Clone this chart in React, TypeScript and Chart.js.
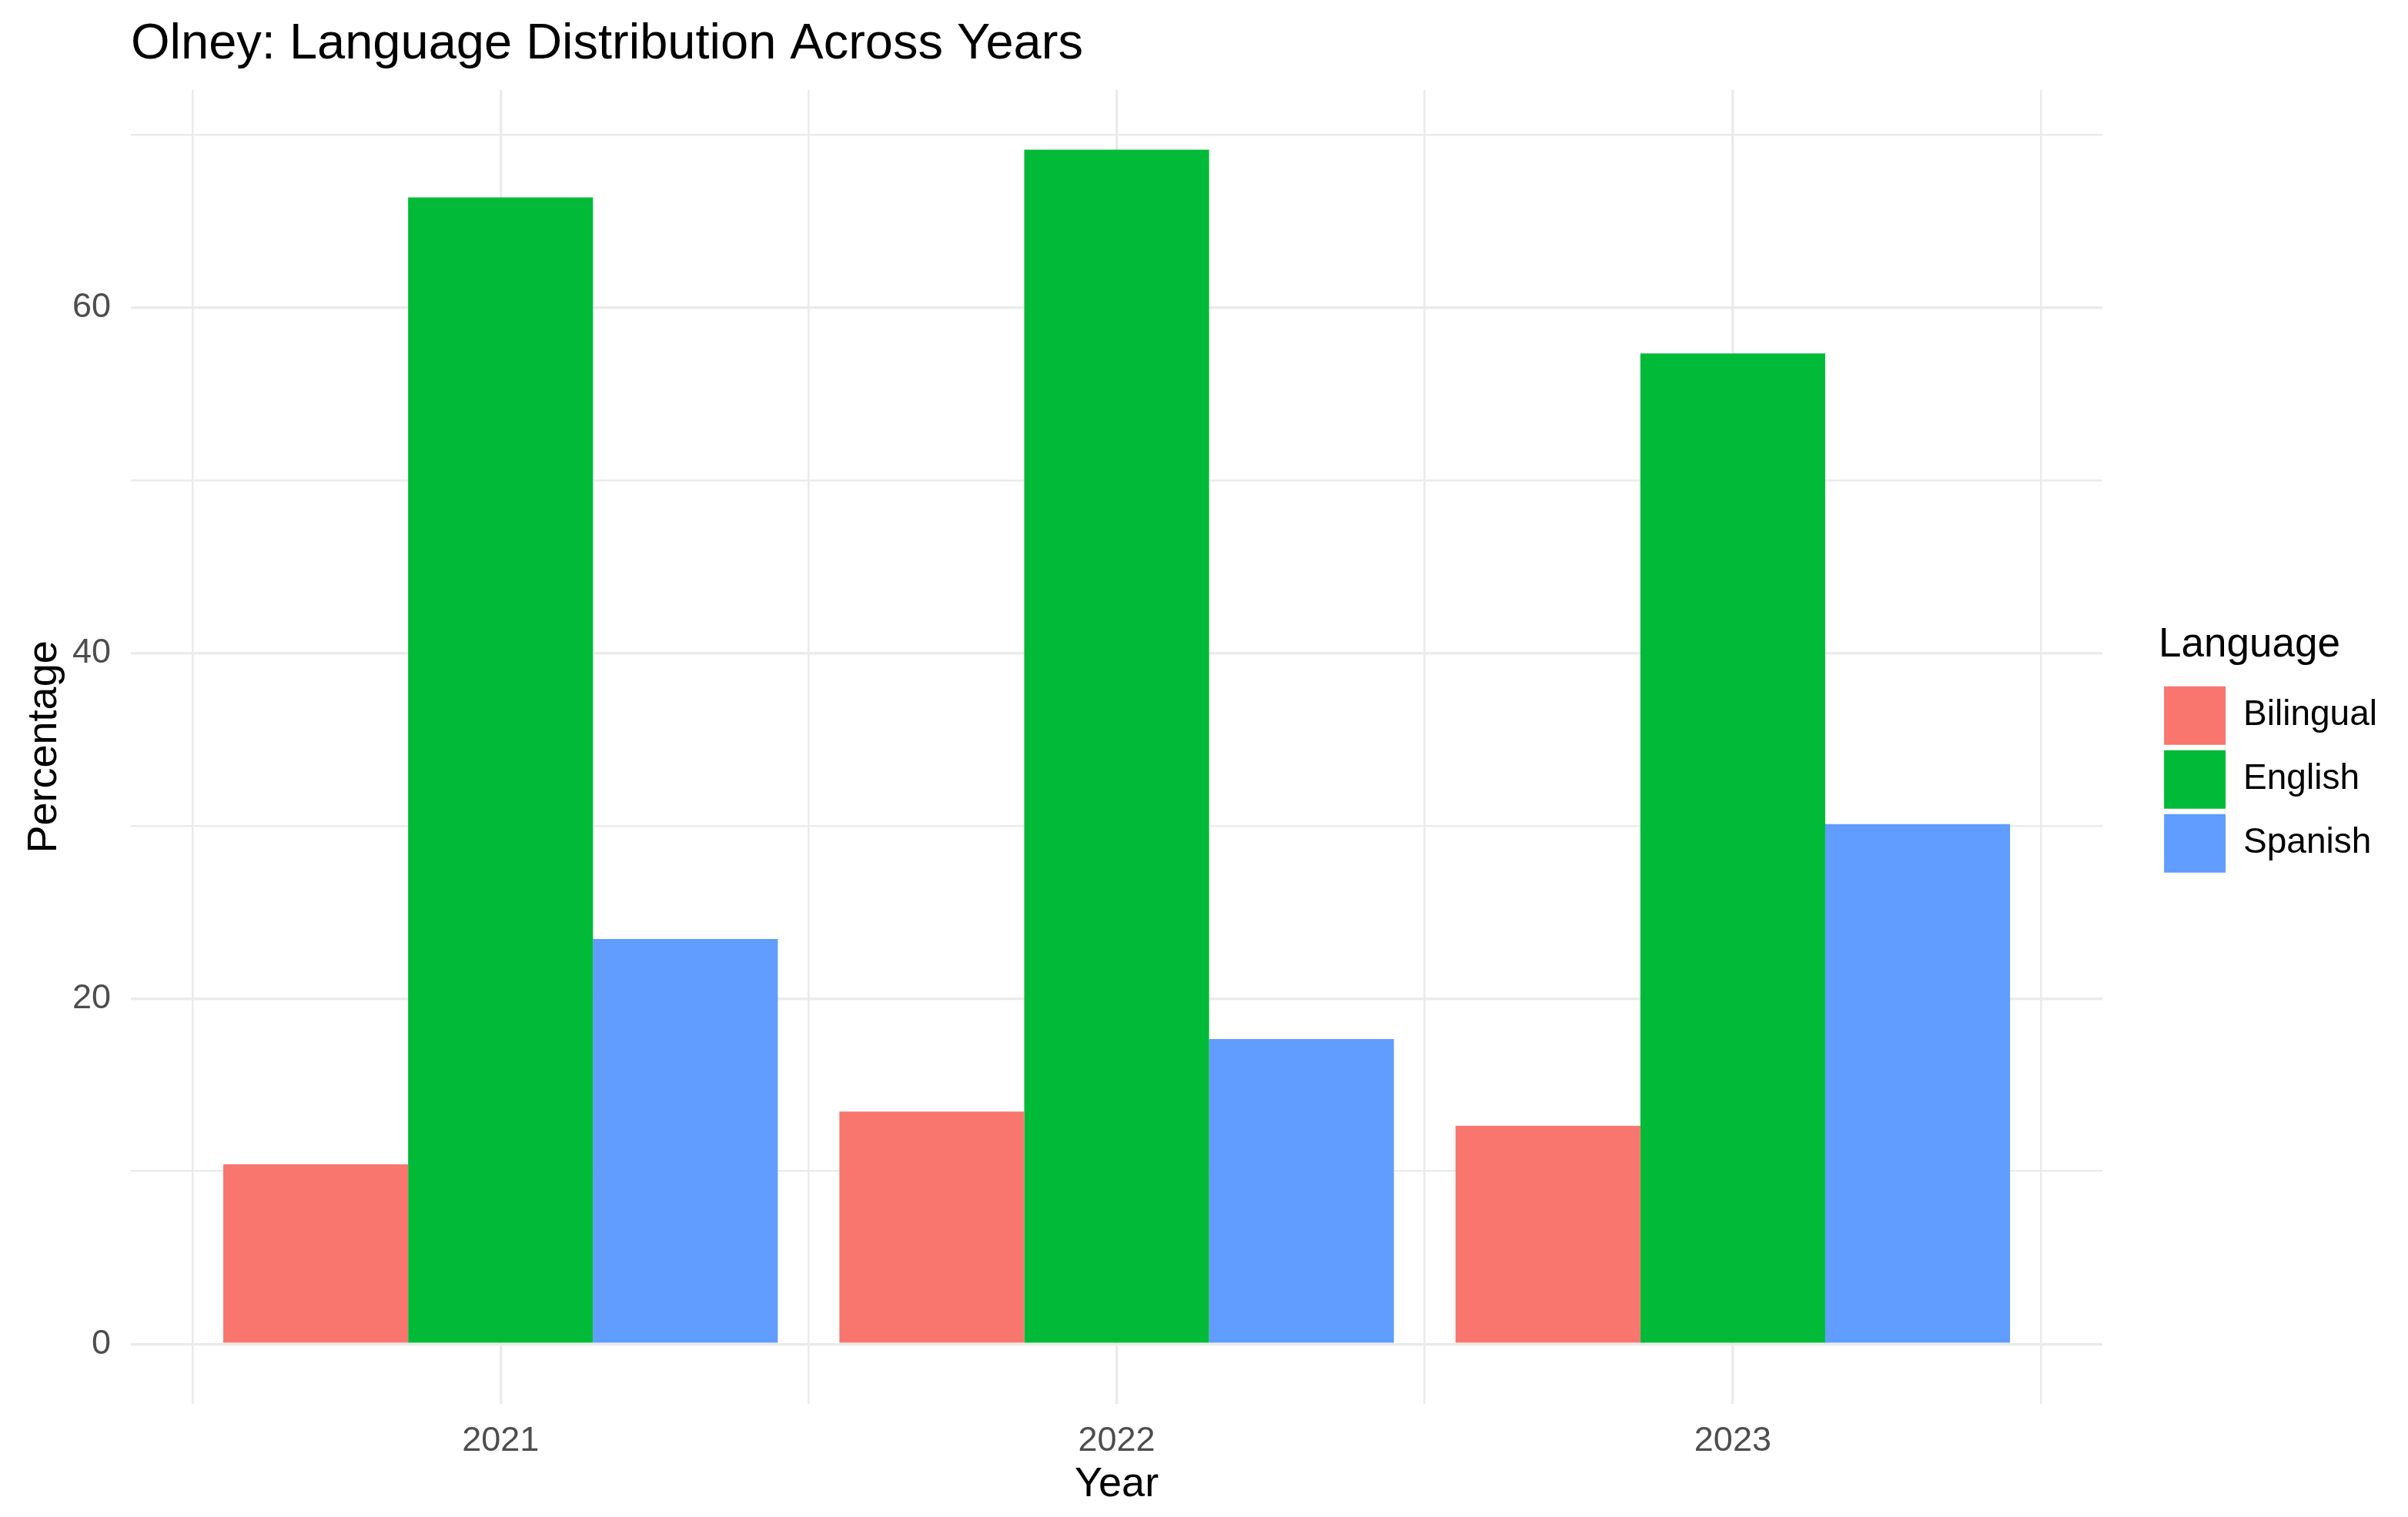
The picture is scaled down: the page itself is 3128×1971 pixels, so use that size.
import { useEffect, useRef } from 'react';
import { Chart, registerables } from 'chart.js';

Chart.register(...registerables);

// ---- data ----
const years = ['2021', '2022', '2023'];
const languages = ['Bilingual', 'English', 'Spanish'];
const bilingual = [10.4, 13.46, 12.63];
const english = [66.38, 69.14, 57.35];
const spanish = [23.45, 17.65, 30.1];
const yTickValues = [0, 10, 20, 30, 40, 50, 60, 70];
const yLabelValues = [0, 20, 40, 60];

// ---- styles ----
const colors = ['#F8766D', '#00BA38', '#619CFF'];
const FONT = "'Liberation Sans', Arial, Helvetica, sans-serif";
const GRID = '#EBEBEB';
const TICK_COLOR = '#4D4D4D';

export default function App() {
  const ref = useRef<HTMLCanvasElement>(null);

  useEffect(() => {
    document.body.style.margin = '0';
    const yearNums = years.map(Number);
    const xMin = yearNums[0] - 0.6;
    const xMax = yearNums[yearNums.length - 1] + 0.6;
    const minorX = [...yearNums.map((v) => v - 0.5), yearNums[yearNums.length - 1] + 0.5];
    const series = [bilingual, english, spanish];
    const dataMax = Math.max(...series.flat());
    const yMin = -0.05 * dataMax;
    const yMax = dataMax * 1.05;

    Chart.defaults.font.family = FONT;

    const chart = new Chart(ref.current as HTMLCanvasElement, {
      type: 'bar',
      data: {
        labels: years,
        datasets: languages.map((name, i) => ({
          label: name,
          data: series[i],
          backgroundColor: colors[i],
          borderWidth: 0,
          categoryPercentage: 0.9,
          barPercentage: 1,
          xAxisID: 'x',
          yAxisID: 'y',
        })),
      },
      options: {
        responsive: false,
        animation: false,
        devicePixelRatio: 1,
        layout: { padding: { left: 0, right: 30, top: 0, bottom: 0 } },
        plugins: {
          tooltip: { enabled: false },
          title: {
            display: true,
            text: 'Olney: Language Distribution Across Years',
            align: 'start',
            fullSize: false,
            color: '#000000',
            font: { family: FONT, size: 65, weight: 'normal' },
            padding: { top: 19, bottom: 20 },
          },
          legend: {
            display: true,
            position: 'right',
            align: 'center',
            fullSize: false,
            title: {
              display: true,
              text: 'Language',
              position: 'start',
              color: '#000000',
              font: { family: FONT, size: 53 },
              padding: { top: 12, bottom: 9 },
            },
            labels: {
              boxWidth: 80,
              boxHeight: 76,
              padding: 7,
              color: '#000000',
              font: { family: FONT, size: 46 },
            },
          },
        },
        scales: {
          x: {
            type: 'linear',
            axis: 'x',
            position: 'bottom',
            min: xMin,
            max: xMax,
            offset: false,
            afterBuildTicks: (s: any) => {
              s.ticks = yearNums.map((v) => ({ value: v }));
            },
            afterFit: (s: any) => {
              s.height = 147.2;
            },
            grid: { offset: false, color: GRID, lineWidth: 3.4, drawTicks: false },
            border: { display: false },
            ticks: {
              padding: 22,
              color: TICK_COLOR,
              font: { family: FONT, size: 45 },
              autoSkip: false,
              maxRotation: 0,
              callback: (v: any) => String(v),
            },
            title: {
              display: true,
              text: 'Year',
              color: '#000000',
              font: { family: FONT, size: 54 },
              padding: { top: 0, bottom: 9 },
            },
          },
          xMinor: {
            type: 'linear',
            axis: 'x',
            position: 'bottom',
            min: xMin,
            max: xMax,
            offset: false,
            afterBuildTicks: (s: any) => {
              s.ticks = minorX.map((v) => ({ value: v }));
            },
            afterFit: (s: any) => {
              s.height = 0;
            },
            grid: { offset: false, color: GRID, lineWidth: 2.6, drawTicks: false },
            border: { display: false },
            ticks: { display: false },
          },
          y: {
            type: 'linear',
            axis: 'y',
            position: 'left',
            min: yMin,
            max: yMax,
            afterBuildTicks: (s: any) => {
              s.ticks = yTickValues.map((v) => ({ value: v }));
            },
            afterFit: (s: any) => {
              s.width = 170;
            },
            grid: {
              color: GRID,
              lineWidth: (ctx: any) => (ctx.tick && yLabelValues.includes(ctx.tick.value) ? 3.4 : 2.6),
              drawTicks: false,
            },
            border: { display: false },
            ticks: {
              padding: 26,
              color: TICK_COLOR,
              font: { family: FONT, size: 45 },
              callback: (v: any) => (yLabelValues.includes(v) ? String(v) : ''),
            },
            title: {
              display: true,
              text: 'Percentage',
              color: '#000000',
              font: { family: FONT, size: 54 },
              padding: { top: 26, bottom: 0 },
            },
          },
          gap: {
            type: 'linear',
            axis: 'y',
            position: 'right',
            display: true,
            grid: { display: false },
            border: { display: false },
            ticks: { display: false },
            afterFit: (s: any) => {
              s.width = 73;
            },
          },
        },
      } as any,
    });
    return () => chart.destroy();
  }, []);

  return (
    <div style={{ width: 3128, height: 1971, background: '#ffffff', overflow: 'hidden' }}>
      <canvas ref={ref} width={3128} height={1971} style={{ display: 'block', width: 3128, height: 1971 }} />
    </div>
  );
}
